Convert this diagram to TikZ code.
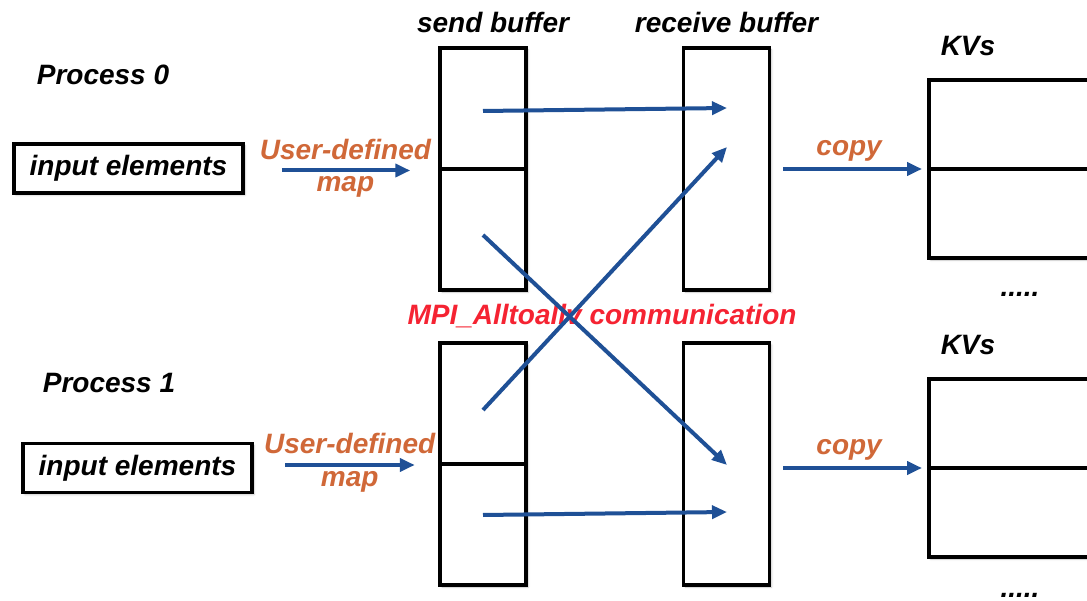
\documentclass[tikz,border=0pt]{standalone}
\usepackage{fontspec}
\setmainfont{Liberation Sans}
\usepackage{xcolor}
\usetikzlibrary{arrows.meta, positioning, shadows.blur}

\definecolor{flowblue}{RGB}{31,80,150}
\definecolor{maporange}{RGB}{208,104,56}
\definecolor{commred}{RGB}{245,35,50}

\newcommand{\bifont}{\fontsize{28}{34}\selectfont\bfseries\itshape}

\tikzstyle{boxshadow} = [blur shadow={shadow xshift=2pt, shadow yshift=-2pt, shadow blur radius=2pt, shadow opacity=25}]
\tikzstyle{title} = [font=\bifont, text=black, inner sep=0pt]
\tikzstyle{note} = [font=\bifont, text=maporange, inner sep=0pt]
\tikzstyle{inbox} = [rectangle, draw=black, line width=3.5pt, fill=white, minimum width=229pt, minimum height=49pt, text centered, font=\bifont, inner sep=0pt, boxshadow]
\tikzstyle{buffer} = [rectangle, draw=black, line width=3.5pt, fill=white, minimum width=86pt, minimum height=242pt, boxshadow]
\tikzstyle{kvbox} = [rectangle, draw=black, line width=3.5pt, fill=white, minimum width=220pt, minimum height=178pt, anchor=west, boxshadow]
\tikzstyle{divider} = [draw=black, line width=3.5pt]
\tikzstyle{arrow} = [line width=4pt, draw=flowblue, -{Triangle[length=15pt, width=13pt]}]

\begin{document}
\begin{tikzpicture}[x=1pt, y=-1pt]
    \path[use as bounding box, clip] (0,0) rectangle (1087,601);

    % Process 0
    \node (proc0) [title, anchor=base] at (103,85) {Process 0};
    \node (in0) [inbox] at (128.5,168.5) {input elements};
    \node (send0) [buffer] at (483,169) {};
    \node (recv0) [buffer] at (726.5,169) {};
    \node (kv0) [kvbox] at (927,169) {};
    \node (sendlbl) [title, above=13pt of send0, xshift=10pt] {send buffer};
    \node (recvlbl) [title, above=13pt of recv0] {receive buffer};
    \node (kvlbl0) [title, anchor=base] at (968,56) {KVs};
    \node (dots0) [title, anchor=base] at (1020,297) {.....};
    \draw [divider] (send0.west) -- (send0.east);
    \draw [divider] (kv0.west) -- (kv0.east);

    % Process 1
    \node (proc1) [title, anchor=base] at (109,392) {Process 1};
    \node (in1) [inbox] at (137.5,468) {input elements};
    \node (send1) [buffer] at (483,464) {};
    \node (recv1) [buffer] at (726.5,464) {};
    \node (kv1) [kvbox] at (927,468) {};
    \node (kvlbl1) [title, anchor=base] at (968,355) {KVs};
    \node (dots1) [title, anchor=base] at (1020,597) {.....};
    \draw [divider] (send1.west) -- (send1.east);
    \draw [divider] (kv1.west) -- (kv1.east);

    % exchange label, arrows go over it
    \node (mpi) [title, text=commred, anchor=base] at (602,325) {MPI\_Alltoallv communication};

    % arrow ends inside the buffers
    \coordinate (s0a) at (483,111);
    \coordinate (s0b) at (483,235);
    \coordinate (r0a) at (727,108);
    \coordinate (r0b) at (727,147);
    \coordinate (s1a) at (483,410);
    \coordinate (s1b) at (483,515);
    \coordinate (r1a) at (727,465);
    \coordinate (r1b) at (727,512);

    % map step
    \draw [arrow, shorten <=37pt, shorten >=28pt] ([yshift=-2pt]in0.east) -- node[note, pos=0.52, above=9pt] {User-defined} node[note, pos=0.52, below=4pt] {map} ([yshift=-2pt]in0.east -| send0.west);
    \draw [arrow, shorten <=31.5pt, shorten >=23.5pt] ([yshift=3pt]in1.east) -- node[note, pos=0.52, above=9pt] {User-defined} node[note, pos=0.52, below=4pt] {map} ([yshift=3pt]in1.east -| send1.west);

    % all-to-all exchange
    \draw [arrow] (s0a) -- (r0a);
    \draw [arrow] (s1a) -- (r0b);
    \draw [arrow] (s0b) -- (r1a);
    \draw [arrow] (s1b) -- (r1b);

    % copy into the KVs
    \draw [arrow, shorten <=12pt, shorten >=5pt] (recv0.east |- kv0.west) -- node[note, above=6pt] {copy} (kv0.west);
    \draw [arrow, shorten <=12pt, shorten >=5pt] (recv1.east |- kv1.west) -- node[note, above=6pt] {copy} (kv1.west);

\end{tikzpicture}
\end{document}
